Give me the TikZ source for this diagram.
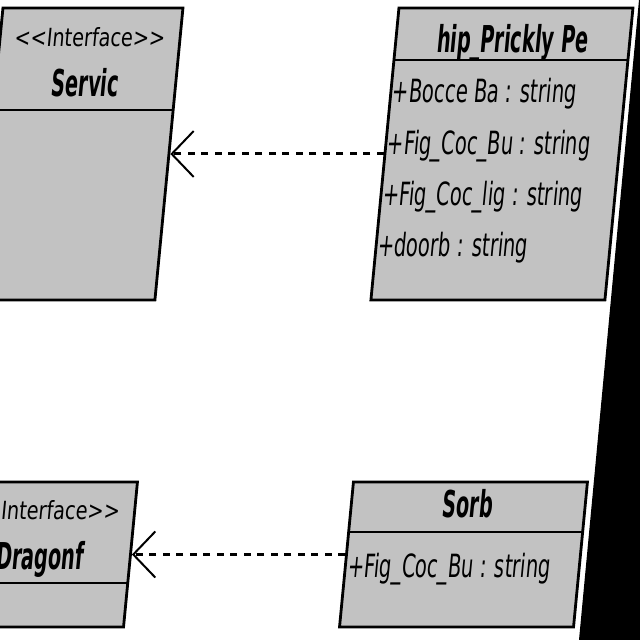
\documentclass[tikz,border=0pt]{standalone}
\usepackage{fontspec}
\setmainfont{DejaVu Sans}
\usetikzlibrary{arrows.meta}
\definecolor{boxgray}{RGB}{194,194,194}
\begin{document}
\begin{tikzpicture}[x=1pt,y=1pt,
  umlbox/.style={draw=black, fill=boxgray, line width=2.8pt, inner sep=0pt},
  divider/.style={draw=black, line width=2.8pt},
  attr/.style={inner sep=0pt, xscale=0.61, font=\fontsize{32}{38}\selectfont},
  title/.style={inner sep=0pt, xscale=0.52, font=\fontsize{37}{44}\selectfont\bfseries},
  stereo/.style={inner sep=0pt, xscale=0.77, font=\fontsize{25}{30}\selectfont},
  dep/.style={draw=black, line width=3pt, dash pattern=on 7pt off 6.5pt,
    -{Straight Barb[length=22pt,width=46pt,line width=2pt]}}
]
\useasboundingbox (0,0) rectangle (640,640);
\fill[white] (0,0) rectangle (640,640);
\begin{scope}[cm={1,0,0.096,1,(-30.72pt,0pt)}, transform shape]
  % Servic interface
  \node[umlbox, minimum width=180pt, minimum height=292pt] (servic) at (63,486) {};
  \draw[divider] (-27,530) -- (153,530);
  \node[stereo, anchor=base] (servicst) at (63,593) {<\kern0pt<Interface>\kern0pt>};
  \node[title, anchor=base] (servicname) at (63,543) {Servic};
  % Dragonf interface
  \node[umlbox, minimum width=180pt, minimum height=145pt] (dragonf) at (63,85.5) {};
  \draw[divider] (-27,57) -- (153,57);
  \node[stereo, anchor=base] (dragonfst) at (63,120) {<\kern0pt<Interface>\kern0pt>};
  \node[title, anchor=base] (dragonfname) at (63,70) {Dragonf};
  % hip_Prickly Pe class
  \node[umlbox, minimum width=234pt, minimum height=292pt] (hip) at (486,486) {};
  \draw[divider] (369,580) -- (603,580);
  \node[title, anchor=base] (hipname) at (486,587) {hip\_Prickly Pe};
  \node[attr, anchor=base west] (hipa1) at (371,537) {+Bocce Ba : string};
  \node[attr, anchor=base west] (hipa2) at (371,485) {+Fig\_Coc\_Bu : string};
  \node[attr, anchor=base west] (hipa3) at (371,434) {+Fig\_Coc\_lig : string};
  \node[attr, anchor=base west] (hipa4) at (371,383) {+doorb : string};
  % Sorb class
  \node[umlbox, minimum width=234pt, minimum height=145pt] (sorb) at (486,85.5) {};
  \draw[divider] (369,108) -- (603,108);
  \node[title, anchor=base] (sorbname) at (486,122) {Sorb};
  \node[attr, anchor=base west] (sorba1) at (372,62) {+Fig\_Coc\_Bu : string};
  % dependencies
  \draw[dep] (hip.west) -- (servic.east);
  \draw[dep] (sorb.west) -- (dragonf.east);
\end{scope}
\fill[black] (579,0) -- (640,0) -- (640,640) -- (639,640) -- cycle;
\end{tikzpicture}
\end{document}
